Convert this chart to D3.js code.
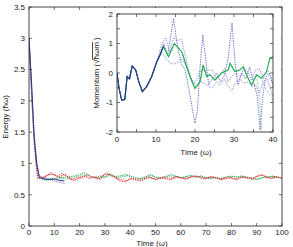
<!DOCTYPE html>
<html><head><meta charset="utf-8">
<script src="https://cdn.jsdelivr.net/npm/d3@7"></script>
<style>
body{margin:0;background:#fff;}
svg{display:block;}
text{font-family:"Liberation Sans",Arial,sans-serif;fill:#222;}
</style></head>
<body>
<svg id="c" width="293" height="247"></svg>
<script>
// ---------- main chart data: energy vs time ----------
const mainXTicks = [0,10,20,30,40,50,60,70,80,90,100];
const mainYTicks = [0,0.5,1,1.5,2,2.5,3,3.5];
const redA = [[0,3.0],[1,2.2],[2,1.35],[3,0.9],[3.5,0.76],[4,0.76],[6,0.78],[8,0.83],[10,0.82],[12,0.78],[14,0.83],[16,0.76],[18,0.73],[20,0.77],[22,0.8],[24,0.76],[26,0.79],[28,0.75],[30,0.83],[32,0.82],[34,0.78],[36,0.72],[38,0.71],[40,0.76],[42,0.74],[44,0.72],[46,0.76],[48,0.78],[50,0.74],[52,0.77],[54,0.76],[56,0.74],[58,0.79],[60,0.77],[62,0.75],[64,0.78],[66,0.8],[68,0.77],[70,0.76],[72,0.79],[74,0.77],[76,0.74],[78,0.76],[80,0.77],[82,0.74],[84,0.78],[86,0.77],[88,0.75],[90,0.79],[92,0.82],[94,0.78],[96,0.76],[98,0.79],[100,0.76]];
const redB = [[4,0.8],[5,0.77],[7,0.8],[9,0.86],[11,0.79],[13,0.84],[15,0.8],[17,0.74],[19,0.78],[21,0.76],[23,0.82],[25,0.78],[27,0.75],[29,0.8],[31,0.85],[33,0.8],[35,0.76],[37,0.74],[39,0.72],[41,0.77],[43,0.75],[45,0.74],[47,0.78],[49,0.76],[51,0.75],[53,0.79],[55,0.77],[57,0.76],[59,0.78],[61,0.76],[63,0.77],[65,0.8],[67,0.79],[69,0.75],[71,0.78],[73,0.78],[75,0.75],[77,0.77],[79,0.79],[81,0.75],[83,0.77],[85,0.79],[87,0.76],[89,0.77],[91,0.81],[93,0.8],[95,0.77],[97,0.78],[99,0.77]];
const greenA = [[0,3.0],[1,2.1],[2,1.4],[3,1.0],[4,0.8],[6,0.76],[8,0.74],[10,0.76],[12,0.78],[14,0.77],[16,0.79],[18,0.8],[20,0.82],[22,0.85],[24,0.8],[26,0.77],[28,0.8],[30,0.78],[32,0.83],[34,0.79],[36,0.8],[38,0.82],[40,0.8],[42,0.77],[44,0.76],[46,0.78],[48,0.82],[50,0.78],[52,0.76],[54,0.79],[56,0.82],[58,0.8],[60,0.77],[62,0.79],[64,0.81],[66,0.78],[68,0.8],[70,0.77],[72,0.76],[74,0.78],[76,0.75],[78,0.78],[80,0.8],[82,0.78],[84,0.8],[86,0.78],[88,0.77],[90,0.74],[92,0.77],[94,0.78],[96,0.8],[98,0.78],[100,0.77]];
const greenB = [[5,0.74],[7,0.73],[9,0.77],[11,0.75],[13,0.76],[15,0.75],[17,0.77],[19,0.79],[21,0.8],[23,0.82],[25,0.78],[27,0.76],[29,0.77],[31,0.8],[33,0.8],[35,0.77],[37,0.79],[39,0.8],[41,0.78],[43,0.75],[45,0.77],[47,0.8],[49,0.8],[51,0.77],[53,0.77],[55,0.8],[57,0.79],[59,0.78],[61,0.77],[63,0.8],[65,0.79],[67,0.79],[69,0.78],[71,0.76],[73,0.77],[75,0.76],[77,0.77],[79,0.79],[81,0.79],[83,0.78],[85,0.79],[87,0.77],[89,0.75],[91,0.75],[93,0.78],[95,0.79],[97,0.79],[99,0.77]];
const blueSolid = [[0,3.0],[1,2.3],[2,1.45],[3,1.0],[4,0.78],[5,0.76],[6,0.75],[8,0.74],[10,0.75],[12,0.73],[14,0.72]];
const blueDot = [[0,3.0],[1,2.2],[2,1.5],[3,1.05],[4,0.82],[5,0.78],[6,0.77],[8,0.76],[10,0.72],[12,0.7],[14,0.68]];

// ---------- inset data: momentum vs time ----------
const insetXTicks = [0,10,20,30,40];
const insetYTicks = [-2,-1,0,1,2];
const common = [[0,0],[0.5,-0.5],[1.2,-0.92],[2,-0.9],[2.6,-0.12],[3.2,-0.2],[3.9,0.24],[4.8,0.1],[5.6,-0.3],[6.5,-0.63],[7.6,-0.46],[8.9,-0.12],[10.2,0.38]];
const greenSolidTail = [[11,0.6],[11.9,0.9],[13.2,0.55],[14.7,1.0],[16.6,0.72],[18.7,-0.12],[20,-0.52],[21.3,-0.29],[22.1,0.27],[23,-0.12],[23.8,-0.05],[25.1,-0.24],[26.8,0],[28.5,0.1],[29,0.33],[30.2,0.05],[31.5,0.1],[32.4,0.21],[33.2,-0.06],[34.5,-0.41],[35.8,-0.06],[37,-0.18],[38.3,0.03],[39.2,0.5],[40,0.55]];
const navyTail = [[11,0.6],[11.9,0.9]];
const greenDash1Tail = [[36.5,-0.8],[37.2,-2.1]];
const greenDash2Tail = [[37,-0.18],[38,-0.5],[39,-0.7],[40,-0.92]];
const bluePeakTail = [[11,0.6],[12,1.0],[13,0.6],[14.5,1.85],[15.5,0.9],[16.5,0.3],[17.5,0.1],[18.5,-0.6],[19.3,-1.2],[20,-1.7],[20.6,-1.3],[21.3,0.2],[22,1.29],[22.8,0.4],[23.5,-0.4],[24.5,-0.2],[25.5,0.0],[26.5,-0.3],[27.5,-0.1],[28.5,0.5],[29.5,1.7],[30.3,0.3],[31,-0.4],[32,0],[33,-0.2],[34,0.2],[35,-0.3],[36,-0.8],[36.7,-1.93],[37.3,-0.9],[38,-0.2],[39,0.0],[40,-0.4]];
const blueHighTail = [[11.5,1.0],[12.5,1.2],[13.5,0.7],[14.5,1.2],[15.5,1.1],[16.5,1.15],[17.5,0.6],[18.5,0.0],[19.5,-0.4],[20.5,-0.2],[21.5,0.1],[22.5,0.1],[23.5,0.1],[24.5,0.1],[25.5,-0.2],[26.5,-0.05],[27.5,0.15],[28.5,-0.3],[29.5,-0.1],[30.5,0.0],[31.5,-0.15],[32.5,0.15],[33.5,0.05],[34.5,-0.25],[35.5,0.1],[36.5,0.15],[37.5,-0.2],[38.5,0.1],[39.5,-0.1],[40,-0.5]];
const blueLowTail = [[11.5,0.7],[12.5,0.5],[13.5,0.35],[14.5,0.3],[15.5,0.35],[16.5,0.5],[17.5,0.3],[18.5,0.0],[19.5,-0.3],[20.5,-0.4],[21.5,-0.3],[22.5,-0.35],[23.5,-0.45],[24.5,-0.5],[25.5,-0.3],[26.5,-0.4],[27.5,-0.2],[28.5,-0.45],[29.5,-0.6],[30.5,-0.3],[31.5,-0.2],[32.5,-0.35],[33.5,-0.3],[34.5,-0.45],[35.5,-0.4],[36.5,-0.7],[37.5,-0.3],[38.5,-0.2],[39.5,-0.6],[40,-0.8]];

const svg = d3.select("#c");
const axisCol = "#333";

function frame(g, x, y, xt, yt, xMinor, yMinor, fs, xlOff) {
  const [x0,x1] = x.range(), [y1,y0] = y.range();
  g.append("rect").attr("x",x0).attr("y",y0).attr("width",x1-x0).attr("height",y1-y0)
    .attr("fill","none").attr("stroke",axisCol).attr("stroke-width",0.9);
  const tl = 3;
  xMinor.forEach(v=>{
    g.append("line").attr("x1",x(v)).attr("x2",x(v)).attr("y1",y1).attr("y2",y1-tl).attr("stroke",axisCol).attr("stroke-width",0.7);
    g.append("line").attr("x1",x(v)).attr("x2",x(v)).attr("y1",y0).attr("y2",y0+tl).attr("stroke",axisCol).attr("stroke-width",0.7);
  });
  yMinor.forEach(v=>{
    g.append("line").attr("x1",x0).attr("x2",x0+tl).attr("y1",y(v)).attr("y2",y(v)).attr("stroke",axisCol).attr("stroke-width",0.7);
    g.append("line").attr("x1",x1).attr("x2",x1-tl).attr("y1",y(v)).attr("y2",y(v)).attr("stroke",axisCol).attr("stroke-width",0.7);
  });
  xt.forEach(v=>{
    g.append("text").attr("x",x(v)).attr("y",y1+xlOff).attr("text-anchor","middle").attr("font-size",fs).text(v);
  });
  yt.forEach(v=>{
    g.append("text").attr("x",x0-4).attr("y",y(v)+fs*0.35).attr("text-anchor","end").attr("font-size",fs).text(v);
  });
}

// main
const mx = d3.scaleLinear().domain([0,100]).range([29,282]);
const my = d3.scaleLinear().domain([0,3.5]).range([226,7]);
const gm = svg.append("g");
const lineM = d3.line().x(d=>mx(d[0])).y(d=>my(d[1]));
gm.append("defs").append("clipPath").attr("id","cm").append("rect").attr("x",29).attr("y",7).attr("width",253).attr("height",219);
const pm = gm.append("g").attr("clip-path","url(#cm)");
const mseries = [
  [greenB,"#5fcb8a","1.2,1",1.1],
  [greenA,"#1fae55","1.2,1",1.1],
  [redB,"#f27a7a","1.2,1",1.1],
  [redA,"#e8262b","1.4,1",1.1],
  [blueDot,"#5a5acb","1.2,1.2",0.9],
  [blueSolid,"#2c3390",null,1.0]
];
mseries.forEach(([d,c,da,w])=>{
  pm.append("path").attr("d",lineM(d)).attr("fill","none").attr("stroke",c).attr("stroke-width",w)
    .attr("stroke-dasharray",da);
});
frame(gm, mx, my, mainXTicks, mainYTicks, d3.range(0,101,10), d3.range(0,3.51,0.5), 8, 9);
gm.append("text").attr("x",152).attr("y",245.5).attr("text-anchor","middle").attr("font-size",8).text("Time (ω)");
gm.append("text").attr("transform","translate(8,117) rotate(-90)").attr("text-anchor","middle").attr("font-size",8).text("Energy (ħω)");

// inset
const ix = d3.scaleLinear().domain([0,40]).range([117,273]);
const iy = d3.scaleLinear().domain([-2,2]).range([132,14]);
const gi = svg.append("g");
gi.append("rect").attr("x",88).attr("y",8).attr("width",193).attr("height",152).attr("fill","#fff");
gi.append("defs").append("clipPath").attr("id","ci").append("rect").attr("x",117).attr("y",14).attr("width",156).attr("height",118);
const pi = gi.append("g").attr("clip-path","url(#ci)");
const lineI = d3.line().x(d=>ix(d[0])).y(d=>iy(d[1]));
const greenSolid = common.concat(greenSolidTail);
const greenDash1 = greenSolid.filter(d=>d[0]<=35.8).concat(greenDash1Tail);
const greenDash2 = greenSolid.filter(d=>d[0]<=37).concat(greenDash2Tail.slice(1));
const iseries = [
  [greenDash1,"#8fd9a8","2.5,1.5",0.9],
  [greenDash2,"#8fd9a8","2.5,1.5",0.9],
  [common.concat(blueLowTail),"#7a7ad2","1.2,1.2",0.9],
  [common.concat(blueHighTail),"#7a7ad2","1.2,1.2",0.9],
  [common.concat(bluePeakTail),"#5050c2","1.2,1.2",0.9],
  [greenSolid,"#1fae55",null,1.1],
  [common.concat(navyTail),"#2c3390",null,1.1]
];
iseries.forEach(([d,c,da,w])=>{
  pi.append("path").attr("d",lineI(d)).attr("fill","none").attr("stroke",c).attr("stroke-width",w)
    .attr("stroke-dasharray",da);
});
frame(gi, ix, iy, insetXTicks, insetYTicks, d3.range(0,40.1,5), d3.range(-2,2.01,0.5), 8, 10);
gi.append("text").attr("x",196).attr("y",155).attr("text-anchor","middle").attr("font-size",8).text("Time (ω)");
const yl = gi.append("text").attr("transform","translate(99,73) rotate(-90)").attr("text-anchor","middle").attr("font-size",8);
yl.append("tspan").text("Momentum (√");
yl.append("tspan").attr("text-decoration","overline").text("ħωm");
yl.append("tspan").text(" )");
</script>
</body></html>
